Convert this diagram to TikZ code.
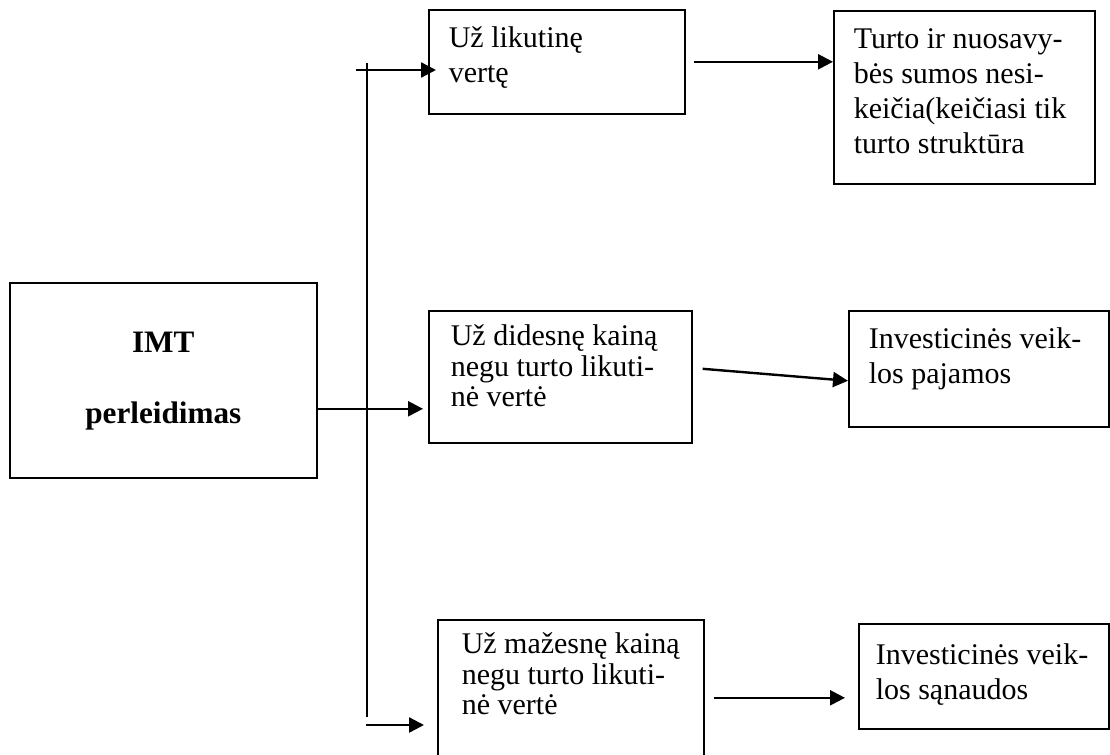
\documentclass[tikz,border=0pt]{standalone}
\usepackage{fontspec}
\setmainfont{Liberation Serif}
\usetikzlibrary{arrows.meta}
\newcommand{\boxfont}{\fontsize{15}{15.2}\selectfont}
\newcommand{\looseboxfont}{\fontsize{15}{17.5}\selectfont}

\begin{document}
\begin{tikzpicture}[x=0.5pt,y=-0.5pt,
		box/.style={draw, line width=0.8pt, anchor=north west, align=flush left,
			inner xsep=10pt, inner ysep=0pt, font=\boxfont},
		arr/.style={line width=1.2pt, -{Triangle[length=7.5pt,width=7.5pt]}}]
	\clip (0,0) rectangle (1110,755);
	\node[box, align=flush center, inner xsep=0pt, text width=153.5pt,
		text height=35pt, text depth=62.5pt, font=\fontsize{15.6}{16}\selectfont\bfseries]
		(imt) at (9,282) {IMT\\[19.5pt]perleidimas};
	\node[box, text width=108pt, text height=19pt, text depth=33pt, font=\looseboxfont]
		(likut) at (428,9) {Už likutinę\\vertę};
	\node[box, text width=110.5pt, text height=19pt, text depth=67.5pt, font=\looseboxfont]
		(turto) at (833,10) {Turto ir nuosavy-\\bės sumos nesi-\\keičia(keičiasi tik\\turto struktūra};
	\node[box, inner xsep=11pt, text width=109.5pt, text height=17.5pt, text depth=48.5pt]
		(didesne) at (428,310) {Už didesnę kainą\\negu turto likuti-\\nė vertė};
	\node[box, text width=110pt, text height=19pt, text depth=39pt, font=\looseboxfont]
		(pajamos) at (848,310) {Investicinės veik-\\los pajamos};
	\node[box, inner xsep=12pt, text width=109pt, text height=17pt, text depth=61pt]
		(mazesne) at (437,619) {Už mažesnę kainą\\negu turto likuti-\\nė vertė};
	\node[box, inner xsep=8.5pt, text width=108pt, text height=20.5pt, text depth=32pt, font=\looseboxfont]
		(sanaudos) at (858,623) {Investicinės veik-\\los sąnaudos};

	\coordinate (trunktop) at (367,63);
	\coordinate (trunkend) at (367,717);
	\coordinate (upin) at (356,70);
	\coordinate (lowin) at (366,725);
	\draw[line width=0.9pt] (trunktop) -- (trunkend);
	\draw[arr, shorten >=-4pt] (upin) -- (upin -| likut.west);
	\draw[arr, shorten >=6.5pt] (lowin) -- (lowin -| mazesne.west);
	\draw[arr, shorten >=2.5pt] ([yshift=-14.25pt]imt.east) -- ([yshift=-16pt]didesne.west);
	\draw[arr] ([xshift=4pt]likut.east) -- (likut.east -| turto.west);
	\draw[arr] ([xshift=5pt,yshift=4pt]didesne.east) -- ([yshift=-6pt]pajamos.west);
	\draw[arr, shorten >=6.5pt] ([xshift=4.5pt]mazesne.east) -- (mazesne.east -| sanaudos.west);
\end{tikzpicture}
\end{document}
